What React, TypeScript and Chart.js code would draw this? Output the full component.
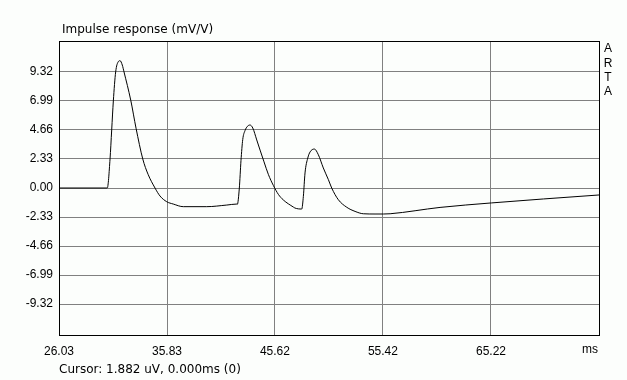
import React, { useEffect, useRef } from "react";
import { Chart, registerables } from "chart.js";

Chart.register(...registerables);

const timeMs: number[] = [
  26.03, 30.41, 30.66, 30.81, 30.96, 31.17, 31.41, 31.57, 31.77, 31.93, 32.54, 33.02, 33.63, 34.11,
  34.74, 35.19, 35.8, 36.4, 37.31, 39.43, 41.25, 42.15, 42.21, 42.39, 42.54, 42.7, 42.91, 43.12,
  43.36, 43.61, 43.97, 44.27, 44.63, 45.02, 45.48, 45.93, 46.38, 47.29, 47.44, 48.05, 48.2, 48.35,
  48.6, 48.81, 49.2, 49.56, 50.01, 50.47, 50.77, 51.37, 52.14, 52.89, 53.64, 54.7, 55.46, 56.07,
  60.6, 65.26, 69.98, 75.02,
];
const response: number[] = [
  0, 0, 2.33, 4.66, 6.99, 9.32, 10.15, 10.23, 9.88, 9.32, 7.05, 4.8, 2.33, 1.1,
  0, -0.64, -1.1, -1.29, -1.5, -1.5, -1.37, -1.29, -1.31, 0, 2.2, 3.9, 4.62, 4.95,
  5.06, 4.82, 3.86, 3.05, 2.1, 1.1, 0.2, -0.51, -0.96, -1.53, -1.61, -1.69, -0.67, 1.21,
  2.41, 2.9, 3.13, 2.67, 1.61, 0.67, 0, -0.94, -1.55, -1.88, -2.07, -2.09, -2.09, -2.07,
  -1.56, -1.2, -0.88, -0.56,
];
const xTicks: number[] = [26.03, 35.83, 45.62, 55.42, 65.22, 75.02];
const xTickLabels: string[] = ["26.03", "35.83", "45.62", "55.42", "65.22", ""];
const xUnit = "ms";
const yTicks: number[] = [-9.32, -6.99, -4.66, -2.33, 0, 2.33, 4.66, 6.99, 9.32];

const titleText = "Impulse response (mV/V)";
const cursorText = "Cursor: 1.882 uV, 0.000ms (0)";
const brandLetters: string[] = ["A", "R", "T", "A"];

const FONT = "Liberation Sans, Arial, sans-serif";
const WIDE_FONT = "DejaVu Sans, sans-serif";

export default function App() {
  const ref = useRef<HTMLCanvasElement | null>(null);
  useEffect(() => {
    if (!ref.current) return;
    const framePlugin = {
      id: "frame",
      beforeDraw(chart: any) {
        const ctx = chart.ctx;
        ctx.save();
        ctx.fillStyle = "#fcfefc";
        ctx.fillRect(0, 0, chart.width, chart.height);
        ctx.restore();
      },
      afterDraw(chart: any) {
        const ctx = chart.ctx;
        const a = chart.chartArea;
        ctx.save();
        ctx.strokeStyle = "#000";
        ctx.lineWidth = 1;
        ctx.strokeRect(Math.round(a.left) + 0.5, Math.round(a.top) + 0.5, Math.round(a.right - a.left), Math.round(a.bottom - a.top));
        ctx.fillStyle = "#000";
        ctx.textBaseline = "middle";
        ctx.font = `12px ${WIDE_FONT}`;
        ctx.textAlign = "left";
        ctx.fillText(titleText, 62, 30);
        ctx.fillText(cursorText, 59, 370);
        ctx.font = `12px ${FONT}`;
        ctx.textAlign = "right";
        ctx.fillText(xUnit, a.right - 1, 350);
        ctx.textAlign = "center";
        brandLetters.forEach((l, i) => ctx.fillText(l, 608, 49 + i * 14.2));
        ctx.restore();
      },
    };
    const chart = new Chart(ref.current, {
      type: "line",
      data: {
        datasets: [
          {
            data: timeMs.map((t, i) => ({ x: t, y: response[i] })),
            borderColor: "#000",
            borderWidth: 1,
            pointRadius: 0,
            cubicInterpolationMode: "monotone",
            fill: false,
          },
        ],
      },
      options: {
        animation: false,
        responsive: false,
        maintainAspectRatio: false,
        layout: { padding: { left: 0, right: 28, top: 41, bottom: 0 } },
        plugins: { legend: { display: false }, tooltip: { enabled: false }, title: { display: false } },
        scales: {
          x: {
            type: "linear",
            min: 26.03,
            max: 75.02,
            afterBuildTicks: (s: any) => {
              s.ticks = xTicks.map((v) => ({ value: v }));
            },
            afterFit: (s: any) => {
              s.height = 45;
            },
            ticks: {
              autoSkip: false,
              maxRotation: 0,
              padding: 9,
              color: "#000",
              font: { family: FONT, size: 12 },
              callback: (v: any, i: number) => xTickLabels[i],
            },
            grid: { color: "#808080", lineWidth: 1, drawTicks: false },
            border: { display: false },
          },
          y: {
            type: "linear",
            min: -11.81,
            max: 11.81,
            afterBuildTicks: (s: any) => {
              s.ticks = yTicks.map((v) => ({ value: v }));
            },
            afterFit: (s: any) => {
              s.width = 59;
            },
            ticks: {
              padding: 6,
              color: "#000",
              font: { family: FONT, size: 12 },
              callback: (v: any) => Number(v).toFixed(2),
            },
            grid: { color: "#808080", lineWidth: 1, drawTicks: false },
            border: { display: false },
          },
        },
      },
      plugins: [framePlugin],
    } as any);
    return () => chart.destroy();
  }, []);
  return (
    <div style={{ position: "fixed", left: 0, top: 0, width: 627, height: 380 }}>
      <canvas ref={ref} width={627} height={380} style={{ width: 627, height: 380, display: "block" }} />
    </div>
  );
}
